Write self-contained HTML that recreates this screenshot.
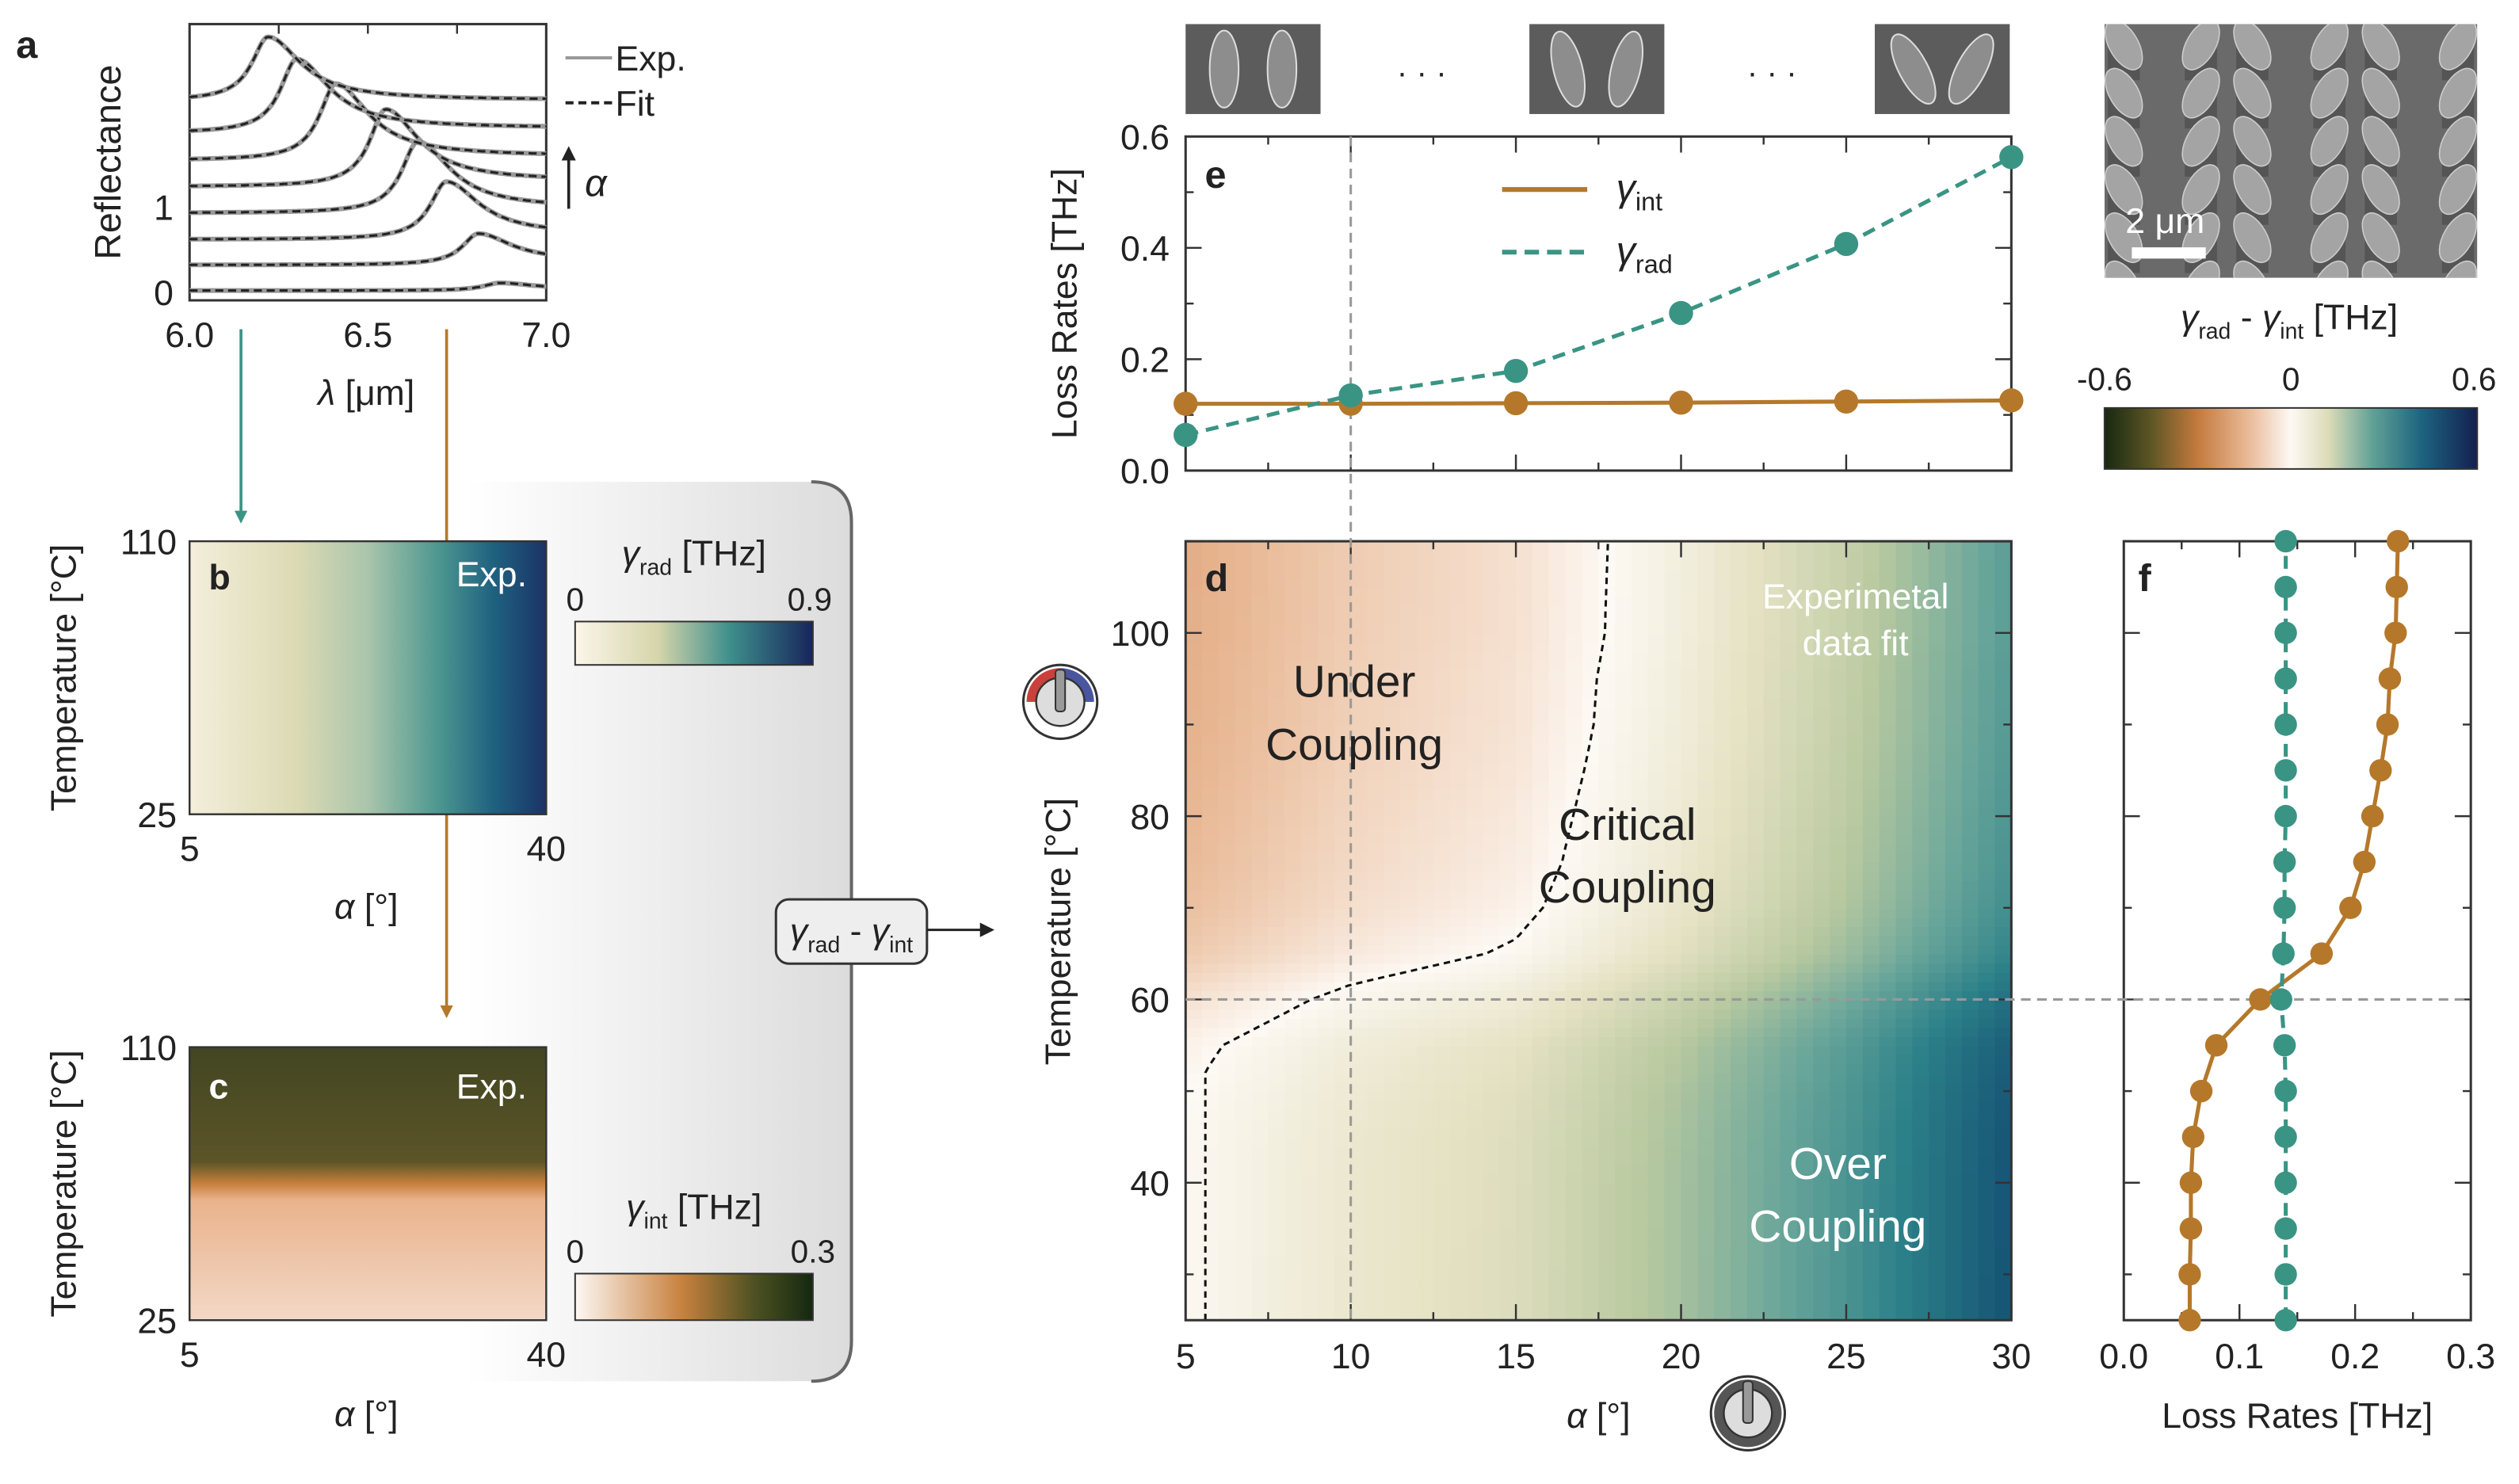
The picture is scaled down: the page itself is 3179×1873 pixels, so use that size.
<!DOCTYPE html>
<html><head><meta charset="utf-8"><style>
html,body{margin:0;padding:0;background:#fff}
svg{display:block}
text{font-family:"Liberation Sans",sans-serif;fill:#222}
</style></head><body>
<svg id="fig" xmlns="http://www.w3.org/2000/svg" width="3179" height="1873" viewBox="0 0 1568 924" preserveAspectRatio="none">
<defs>
<linearGradient id="panelbg" x1="0" x2="1" y1="0" y2="0"><stop offset="0" stop-color="#fff"/><stop offset="0.35" stop-color="#f3f3f3"/><stop offset="1" stop-color="#dcdcdc"/></linearGradient>
<linearGradient id="gb" x1="0" x2="1"><stop offset="0" stop-color="#f4eedb"/><stop offset="0.3" stop-color="#dcdab4"/><stop offset="0.5" stop-color="#a9c5ab"/><stop offset="0.7" stop-color="#4c9690"/><stop offset="0.85" stop-color="#1f6280"/><stop offset="1" stop-color="#1b3366"/></linearGradient>
<linearGradient id="gbbar" x1="0" x2="1"><stop offset="0" stop-color="#fbf6ea"/><stop offset="0.35" stop-color="#d5d5aa"/><stop offset="0.65" stop-color="#3e8f8c"/><stop offset="1" stop-color="#17255c"/></linearGradient>
<linearGradient id="gc" x1="0" x2="0" y1="0" y2="1"><stop offset="0" stop-color="#424622"/><stop offset="0.42" stop-color="#5b5427"/><stop offset="0.5" stop-color="#c7803c"/><stop offset="0.56" stop-color="#e9b38c"/><stop offset="1" stop-color="#f3d8c6"/></linearGradient>
<linearGradient id="gcbar" x1="0" x2="1"><stop offset="0" stop-color="#fdf8f4"/><stop offset="0.45" stop-color="#c8813e"/><stop offset="0.75" stop-color="#4e5222"/><stop offset="1" stop-color="#142810"/></linearGradient>
<linearGradient id="gdbar" x1="0" x2="1"><stop offset="0" stop-color="#17280f"/><stop offset="0.12" stop-color="#5a5424"/><stop offset="0.25" stop-color="#c47a3e"/><stop offset="0.38" stop-color="#e8b793"/><stop offset="0.5" stop-color="#fdf9f4"/><stop offset="0.6" stop-color="#dcdcb8"/><stop offset="0.72" stop-color="#5fa196"/><stop offset="0.85" stop-color="#1d6480"/><stop offset="1" stop-color="#13204f"/></linearGradient>
<clipPath id="clipd"><rect x="738" y="337" width="514" height="485"/></clipPath>
<clipPath id="clipsem"><rect x="1310" y="15" width="232" height="158"/></clipPath>
<marker id="arrT" markerWidth="8" markerHeight="8" refX="4" refY="4" orient="auto" markerUnits="userSpaceOnUse"><path d="M0,0 L8,4 L0,8 z" fill="#3a9484"/></marker>
<marker id="arrB" markerWidth="8" markerHeight="8" refX="4" refY="4" orient="auto" markerUnits="userSpaceOnUse"><path d="M0,0 L8,4 L0,8 z" fill="#b5782a"/></marker>
<marker id="arrK" markerWidth="9" markerHeight="9" refX="4" refY="4.5" orient="auto" markerUnits="userSpaceOnUse"><path d="M0,0 L9,4.5 L0,9 z" fill="#222"/></marker>
</defs>

<path d="M290,300 L505,300 Q530,300 530,325 L530,835 Q530,860 505,860 L290,860 Z" fill="url(#panelbg)"/>
<path d="M505,300 Q530,300 530,325 L530,835 Q530,860 505,860" fill="none" stroke="#666" stroke-width="2"/>

<text x="10" y="36" font-size="24" font-weight="bold">a</text>
<rect x="118" y="15" width="222" height="172" fill="none" stroke="#333" stroke-width="1.5"/>
<text transform="translate(75,101) rotate(-90)" text-anchor="middle" font-size="23">Reflectance</text>
<text x="108" y="137" text-anchor="end" font-size="22">1</text>
<text x="108" y="190" text-anchor="end" font-size="22">0</text>
<text x="118" y="216" text-anchor="middle" font-size="22">6.0</text>
<text x="229" y="216" text-anchor="middle" font-size="22">6.5</text>
<text x="340" y="216" text-anchor="middle" font-size="22">7.0</text>
<text x="228" y="252" text-anchor="middle" font-size="22"><tspan font-style="italic">λ</tspan> [μm]</text>
<line x1="352" y1="36" x2="381" y2="36" stroke="#999" stroke-width="2"/>
<text x="383" y="44" font-size="22">Exp.</text>
<line x1="352" y1="64" x2="381" y2="64" stroke="#222" stroke-width="2" stroke-dasharray="5,3"/>
<text x="383" y="72" font-size="22">Fit</text>
<line x1="354" y1="130" x2="354" y2="96" stroke="#222" stroke-width="1.8" marker-end="url(#arrK)"/>
<text x="364" y="122" font-size="24" font-style="italic">α</text>

<line x1="150" y1="205" x2="150" y2="322" stroke="#3a9484" stroke-width="1.8" marker-end="url(#arrT)"/>
<line x1="278" y1="205" x2="278" y2="630" stroke="#b5782a" stroke-width="1.8" marker-end="url(#arrB)"/>
<rect x="483" y="560" width="94" height="40" rx="8" fill="#eee" stroke="#333" stroke-width="1.5"/>
<text x="530" y="587" text-anchor="middle" font-size="22"><tspan font-style="italic">γ</tspan><tspan font-size="14" dy="6">rad</tspan><tspan dy="-6"> - </tspan><tspan font-style="italic">γ</tspan><tspan font-size="14" dy="6">int</tspan></text>
<line x1="577" y1="579" x2="614" y2="579" stroke="#222" stroke-width="1.5" marker-end="url(#arrK)"/>

<rect x="118" y="337" width="222" height="170" fill="url(#gb)"/>
<rect x="118" y="337" width="222" height="170" fill="none" stroke="#333" stroke-width="1.2"/>
<text x="130" y="367" font-size="22" font-weight="bold">b</text>
<text x="328" y="365" text-anchor="end" font-size="22" style="fill:#fff">Exp.</text>
<text x="110" y="345" text-anchor="end" font-size="22">110</text>
<text x="110" y="515" text-anchor="end" font-size="22">25</text>
<text x="118" y="536" text-anchor="middle" font-size="22">5</text>
<text x="340" y="536" text-anchor="middle" font-size="22">40</text>
<text x="228" y="572" text-anchor="middle" font-size="22"><tspan font-style="italic">α</tspan> [°]</text>
<text transform="translate(47,422) rotate(-90)" text-anchor="middle" font-size="22">Temperature [°C]</text>
<text x="432" y="352" text-anchor="middle" font-size="22"><tspan font-style="italic">γ</tspan><tspan font-size="14" dy="6">rad</tspan><tspan dy="-6"> [THz]</tspan></text>
<text x="358" y="380" text-anchor="middle" font-size="20">0</text>
<text x="504" y="380" text-anchor="middle" font-size="20">0.9</text>
<rect x="358" y="387" width="148" height="27" fill="url(#gbbar)" stroke="#333" stroke-width="1"/>

<rect x="118" y="652" width="222" height="170" fill="url(#gc)"/>
<rect x="118" y="652" width="222" height="170" fill="none" stroke="#333" stroke-width="1.2"/>
<text x="130" y="684" font-size="22" font-weight="bold" style="fill:#fff">c</text>
<text x="328" y="684" text-anchor="end" font-size="22" style="fill:#fff">Exp.</text>
<text x="110" y="660" text-anchor="end" font-size="22">110</text>
<text x="110" y="830" text-anchor="end" font-size="22">25</text>
<text x="118" y="851" text-anchor="middle" font-size="22">5</text>
<text x="340" y="851" text-anchor="middle" font-size="22">40</text>
<text x="228" y="888" text-anchor="middle" font-size="22"><tspan font-style="italic">α</tspan> [°]</text>
<text transform="translate(47,737) rotate(-90)" text-anchor="middle" font-size="22">Temperature [°C]</text>
<text x="432" y="759" text-anchor="middle" font-size="22"><tspan font-style="italic">γ</tspan><tspan font-size="14" dy="6">int</tspan><tspan dy="-6"> [THz]</tspan></text>
<text x="358" y="786" text-anchor="middle" font-size="20">0</text>
<text x="506" y="786" text-anchor="middle" font-size="20">0.3</text>
<rect x="358" y="793" width="148" height="29" fill="url(#gcbar)" stroke="#333" stroke-width="1"/>

<g id="sem"></g>
<text x="885" y="52" text-anchor="middle" font-size="20">· · ·</text>
<text x="1103" y="52" text-anchor="middle" font-size="20">· · ·</text>

<text x="1425" y="205" text-anchor="middle" font-size="22"><tspan font-style="italic">γ</tspan><tspan font-size="14" dy="6">rad</tspan><tspan dy="-6"> - </tspan><tspan font-style="italic">γ</tspan><tspan font-size="14" dy="6">int</tspan><tspan dy="-6"> [THz]</tspan></text>
<text x="1310" y="243" text-anchor="middle" font-size="20">-0.6</text>
<text x="1426" y="243" text-anchor="middle" font-size="20">0</text>
<text x="1540" y="243" text-anchor="middle" font-size="20">0.6</text>
<rect x="1310" y="254" width="232" height="38" fill="url(#gdbar)" stroke="#333" stroke-width="1"/>

<g id="plots"></g>
</svg>
<script>
const aBase = [0.02, 0.32, 0.62, 0.93, 1.24, 1.55, 1.87, 2.25];
const aTail = [0.04, 0.37, 0.68, 0.99, 1.31, 1.60, 1.93, 2.26];
const aPeak = [0.11, 0.69, 1.30, 1.77, 2.15, 2.45, 2.74, 3.00];
const aLam  = [6.87, 6.81, 6.72, 6.64, 6.55, 6.41, 6.30, 6.22];
const alphaE = [5, 10, 15, 20, 25, 30];
const gammaIntE = [0.120, 0.120, 0.121, 0.122, 0.124, 0.126];
const gammaRadE = [0.064, 0.135, 0.179, 0.283, 0.407, 0.563];
const eTicks = [0.0, 0.2, 0.4, 0.6];
const xTicksD = [5, 10, 15, 20, 25, 30];
const tempF = [25,30,35,40,45,50,55,60,65,70,75,80,85,90,95,100,105,110];
const gammaIntF = [0.057,0.057,0.058,0.058,0.060,0.067,0.080,0.118,0.171,0.196,0.208,0.215,0.222,0.228,0.230,0.235,0.236,0.237];
const gammaRadF = [0.140,0.140,0.140,0.140,0.140,0.140,0.139,0.136,0.138,0.139,0.139,0.140,0.140,0.140,0.140,0.140,0.140,0.140];
const fTicks = [0.0, 0.1, 0.2, 0.3];
const yTicksD = [40, 60, 80, 100];

const ax = l => 118 + (l - 6) * 222;
const ay = r => 182 - r * 53;
const ex = a => 738 + (a - 5) / 25 * 514;
const ey = v => 293 - v / 0.6 * 208;
const dy = T => 822 - (T - 25) / 85 * 485;
const fx = v => 1322 + v / 0.3 * 216;

const NS = 'http://www.w3.org/2000/svg';
const plots = document.getElementById('plots');
function mk(tag, attrs, parent) {
  const e = document.createElementNS(NS, tag);
  for (const k in attrs) e.setAttribute(k, attrs[k]);
  (parent || plots).appendChild(e);
  return e;
}
function txt(s, attrs, parent) { const t = mk('text', attrs, parent); t.textContent = s; return t; }
function interp(xs, ys, x) {
  if (x <= xs[0]) return ys[0];
  for (let i = 1; i < xs.length; i++) if (x <= xs[i]) { const f = (x - xs[i-1]) / (xs[i] - xs[i-1]); return ys[i-1] + f * (ys[i] - ys[i-1]); }
  return ys[ys.length - 1];
}

for (let i = 0; i < aBase.length; i++) {
  let d = '';
  for (let k = 0; k <= 200; k++) {
    const l = 6 + k / 200;
    let r;
    if (l < aLam[i]) r = aBase[i] + (aPeak[i] - aBase[i]) / (1 + Math.pow((l - aLam[i]) / 0.055, 2));
    else r = aTail[i] + (aPeak[i] - aTail[i]) / (1 + Math.pow((l - aLam[i]) / 0.11, 2));
    d += (k ? 'L' : 'M') + ax(l).toFixed(1) + ',' + ay(r).toFixed(1);
  }
  const g = mk('path', {d: d, fill: 'none', stroke: '#9a9a9a', 'stroke-width': 3});
  
  
  const f = mk('path', {d: d, fill: 'none', stroke: '#222', 'stroke-width': 1.5, 'stroke-dasharray': '5,3'});
  
  
}
[6.25, 6.5, 6.75].forEach(l => {
  const t = mk('line', {x1: ax(l), y1: 15, x2: ax(l), y2: 21, stroke: '#333', 'stroke-width': 1.2});
  
  
});

const cmStops = [[-0.6,[23,40,15]],[-0.45,[90,84,36]],[-0.3,[196,122,62]],[-0.15,[232,183,147]],[0,[253,249,244]],[0.1,[230,226,196]],[0.2,[185,201,160]],[0.3,[106,166,154]],[0.4,[44,129,137]],[0.5,[23,86,118]],[0.6,[19,32,79]]];
function cmap(v) {
  v = Math.max(-0.6, Math.min(0.6, v));
  for (let i = 1; i < cmStops.length; i++) if (v <= cmStops[i][0]) {
    const a = cmStops[i-1], b = cmStops[i], f = (v - a[0]) / (b[0] - a[0]);
    return 'rgb(' + a[1].map((c, j) => Math.round(c + f * (b[1][j] - c))).join(',') + ')';
  }
  return 'rgb(19,32,79)';
}

const hm = mk('g', {'clip-path': 'url(#clipd)'});


const cw = 514 / 50, ch = 485 / 85;
for (let j = 0; j < 85; j++) {
  const T = 25 + j + 0.5;
  const gi = interp(tempF, gammaIntF, T);
  for (let i = 0; i < 50; i++) {
    const a = 5 + (i + 0.5) * 0.5;
    const gr = interp(alphaE, gammaRadE, a);
    const c = mk('rect', {x: (ex(a) - cw / 2).toFixed(2), y: (dy(T) - ch / 2).toFixed(2), width: (cw + 0.6).toFixed(2), height: (ch + 0.6).toFixed(2), fill: cmap(gr - gi)}, hm);
    
    
  }
}
let cd = '';
for (let T = 25; T <= 110; T += 0.5) {
  const gi = interp(tempF, gammaIntF, T);
  let a = 5.6;
  for (let k = 1; k < alphaE.length; k++) if (gi <= gammaRadE[k] && gi >= gammaRadE[k-1]) { a = alphaE[k-1] + (gi - gammaRadE[k-1]) / (gammaRadE[k] - gammaRadE[k-1]) * 5; break; }
  a = Math.max(a, 5.6);
  cd += (cd ? 'L' : 'M') + ex(a).toFixed(1) + ',' + dy(T).toFixed(1);
}
const cont = mk('path', {d: cd, fill: 'none', stroke: '#111', 'stroke-width': 1.5, 'stroke-dasharray': '4,3'}, hm);



function frame(x, y, w, h, name) {
  const r = mk('rect', {x: x, y: y, width: w, height: h, fill: 'none', stroke: '#333', 'stroke-width': 1.5});
  
  
}
frame(738, 337, 514, 485, 'panel-d-frame');
frame(738, 85, 514, 208, 'panel-e-frame');
frame(1322, 337, 216, 485, 'panel-f-frame');

for (let a = 5; a <= 30; a += 2.5) {
  const len = (a % 5 === 0) ? 10 : 5;
  [[822, -1], [337, 1], [293, -1], [85, 1]].forEach(([y0, s]) => {
    const t = mk('line', {x1: ex(a), y1: y0, x2: ex(a), y2: y0 + s * len, stroke: '#333', 'stroke-width': 1.2});
    
    
  });
}
xTicksD.forEach(a => {
  const t = txt(String(a), {x: ex(a), y: 852, 'text-anchor': 'middle', 'font-size': 22});
  
  
});
for (let T = 30; T <= 110; T += 10) {
  const len = (T % 20 === 0) ? 10 : 5;
  [[738, 1], [1252, -1], [1322, 1], [1538, -1]].forEach(([x0, s]) => {
    const t = mk('line', {x1: x0, y1: dy(T), x2: x0 + s * len, y2: dy(T), stroke: '#333', 'stroke-width': 1.2});
    
    
  });
}
yTicksD.forEach(T => {
  const t = txt(String(T), {x: 728, y: dy(T) + 8, 'text-anchor': 'end', 'font-size': 22});
  
  
});
for (let v = 0.1; v < 0.6; v += 0.1) {
  const big = Math.abs((v * 10) % 2) < 0.01;
  [[738, 1], [1252, -1]].forEach(([x0, s]) => {
    const t = mk('line', {x1: x0, y1: ey(v), x2: x0 + s * (big ? 10 : 5), y2: ey(v), stroke: '#333', 'stroke-width': 1.2});
    
    
  });
}
eTicks.forEach(v => {
  const t = txt(v.toFixed(1), {x: 728, y: ey(v) + 8, 'text-anchor': 'end', 'font-size': 22});
  
  
});
for (let v = 0.05; v < 0.3; v += 0.05) {
  const big = Math.abs(v * 20 % 2) < 0.01;
  [[822, -1], [337, 1]].forEach(([y0, s]) => {
    const t = mk('line', {x1: fx(v), y1: y0, x2: fx(v), y2: y0 + s * (big ? 10 : 5), stroke: '#333', 'stroke-width': 1.2});
    
    
  });
}
fTicks.forEach(v => {
  const t = txt(v.toFixed(1), {x: fx(v), y: 852, 'text-anchor': 'middle', 'font-size': 22});
  
  
});

const vl = mk('line', {x1: ex(10), y1: 85, x2: ex(10), y2: 822, stroke: '#999', 'stroke-width': 1.5, 'stroke-dasharray': '6,4'});


const hl = mk('line', {x1: 738, y1: dy(60), x2: 1538, y2: dy(60), stroke: '#999', 'stroke-width': 1.5, 'stroke-dasharray': '6,4'});



const pInt = mk('path', {d: alphaE.map((a, i) => (i ? 'L' : 'M') + ex(a) + ',' + ey(gammaIntE[i])).join(''), fill: 'none', stroke: '#b5782a', 'stroke-width': 2.5});


const pRad = mk('path', {d: alphaE.map((a, i) => (i ? 'L' : 'M') + ex(a) + ',' + ey(gammaRadE[i])).join(''), fill: 'none', stroke: '#3a9484', 'stroke-width': 2.5, 'stroke-dasharray': '8,5'});


alphaE.forEach((a, i) => {
  const c1 = mk('circle', {cx: ex(a), cy: ey(gammaIntE[i]), r: 7.5, fill: '#b5782a'});
  
  
  const c2 = mk('circle', {cx: ex(a), cy: ey(gammaRadE[i]), r: 7.5, fill: '#3a9484'});
  
  
});

const fInt = mk('path', {d: tempF.map((T, i) => (i ? 'L' : 'M') + fx(gammaIntF[i]) + ',' + dy(T)).join(''), fill: 'none', stroke: '#b5782a', 'stroke-width': 2.5});


const fRad = mk('path', {d: tempF.map((T, i) => (i ? 'L' : 'M') + fx(gammaRadF[i]) + ',' + dy(T)).join(''), fill: 'none', stroke: '#3a9484', 'stroke-width': 2.5, 'stroke-dasharray': '8,5'});


tempF.forEach((T, i) => {
  const c1 = mk('circle', {cx: fx(gammaIntF[i]), cy: dy(T), r: 7, fill: '#b5782a'});
  
  
  const c2 = mk('circle', {cx: fx(gammaRadF[i]), cy: dy(T), r: 7, fill: '#3a9484'});
  
  
});

function label(s, x, y, size, name, opts) {
  const t = txt(s, Object.assign({x: x, y: y, 'font-size': size}, opts || {}));
  
  
  return t;
}
label('d', 750, 368, 24, 'panel-d-label', {'font-weight': 'bold'});
label('e', 750, 117, 24, 'panel-e-label', {'font-weight': 'bold'});
label('f', 1331, 368, 24, 'panel-f-label', {'font-weight': 'bold'});
label('Under', 843, 434, 28, 'under-coupling-label-1', {'text-anchor': 'middle'});
label('Coupling', 843, 473, 28, 'under-coupling-label-2', {'text-anchor': 'middle'});
label('Critical', 1013, 523, 28, 'critical-coupling-label-1', {'text-anchor': 'middle'});
label('Coupling', 1013, 562, 28, 'critical-coupling-label-2', {'text-anchor': 'middle'});
label('Experimetal', 1155, 379, 22, 'fit-note-label-1', {'text-anchor': 'middle', style: 'fill:#fff'});
label('data fit', 1155, 408, 22, 'fit-note-label-2', {'text-anchor': 'middle', style: 'fill:#fff'});
label('Over', 1144, 734, 28, 'over-coupling-label-1', {'text-anchor': 'middle', style: 'fill:#fff'});
label('Coupling', 1144, 773, 28, 'over-coupling-label-2', {'text-anchor': 'middle', style: 'fill:#fff'});
const dxt = label('', 995, 889, 22, 'panel-d-x-title', {'text-anchor': 'middle'});
dxt.innerHTML = '<tspan font-style="italic">α</tspan> [°]';
label('Temperature [°C]', 0, 0, 22, 'panel-d-y-title', {'text-anchor': 'middle', transform: 'translate(666,580) rotate(-90)'});
label('Loss Rates [THz]', 0, 0, 22, 'panel-e-y-title', {'text-anchor': 'middle', transform: 'translate(670,189) rotate(-90)'});
label('Loss Rates [THz]', 1430, 889, 22, 'panel-f-x-title', {'text-anchor': 'middle'});
const l1 = mk('line', {x1: 935, y1: 118, x2: 988, y2: 118, stroke: '#b5782a', 'stroke-width': 3});


const l2 = mk('line', {x1: 935, y1: 157, x2: 988, y2: 157, stroke: '#3a9484', 'stroke-width': 3, 'stroke-dasharray': '9,5'});


const lt1 = label('', 1006, 125, 24, 'legend-gamma-int-label');
lt1.innerHTML = '<tspan font-style="italic">γ</tspan><tspan font-size="16" dy="6">int</tspan>';
const lt2 = label('', 1006, 164, 24, 'legend-gamma-rad-label');
lt2.innerHTML = '<tspan font-style="italic">γ</tspan><tspan font-size="16" dy="6">rad</tspan>';

function knob(cx, cy, name, colored) {
  const g = mk('g', {});
  
  
  mk('circle', {cx: cx, cy: cy, r: 23, fill: '#fff', stroke: '#333', 'stroke-width': 1.5}, g);
  if (colored) {
    mk('path', {d: `M${cx-21},${cy} A21,21 0 0 1 ${cx},${cy-21} L${cx},${cy} Z`, fill: '#c9413a'}, g);
    mk('path', {d: `M${cx},${cy-21} A21,21 0 0 1 ${cx+21},${cy} L${cx},${cy} Z`, fill: '#4a55a0'}, g);
  } else {
    mk('circle', {cx: cx, cy: cy, r: 21, fill: '#555'}, g);
  }
  mk('circle', {cx: cx, cy: cy, r: 15, fill: '#ddd', stroke: '#333', 'stroke-width': 1.2}, g);
  mk('rect', {x: cx - 3, y: cy - 20, width: 6, height: 26, rx: 2, fill: '#999', stroke: '#333', 'stroke-width': 1}, g);
}
knob(660, 437, 'temperature-knob-icon', true);
knob(1088, 880, 'angle-knob-icon', false);

const sem = document.getElementById('sem');
[[738, 0], [952, 14], [1167, 28]].forEach(([x0, ang]) => {
  const g = mk('g', {}, sem);
  
  
  mk('rect', {x: x0, y: 15, width: 84, height: 56, fill: '#5c5c5c'}, g);
  [[x0 + 24, -ang], [x0 + 60, ang]].forEach(([cx, a]) => {
    mk('ellipse', {cx: cx, cy: 43, rx: 9, ry: 24, fill: '#8d8d8d', stroke: '#ddd', 'stroke-width': 1, transform: `rotate(${a} ${cx} 43)`}, g);
  });
});
const big = mk('g', {'clip-path': 'url(#clipsem)'}, sem);


mk('rect', {x: 1310, y: 15, width: 232, height: 158, fill: '#6a6a6a'}, big);
for (let r = 0; r < 6; r++) for (let c = 0; c < 6; c++) {
  const cx = 1322 + c * 40 + (c % 2) * 8, cy = 28 + r * 30;
  mk('rect', {x: cx - 10, y: cy, width: 20, height: 22, fill: '#555'}, big);
  mk('ellipse', {cx: cx, cy: cy, rx: 9, ry: 17, fill: '#a4a4a4', stroke: '#ccc', 'stroke-width': 0.8, transform: `rotate(${c % 2 ? 30 : -30} ${cx} ${cy})`}, big);
}
label('2 μm', 1323, 145, 22, 'scale-bar-label', {style: 'fill:#fff'});
const sb = mk('rect', {x: 1327, y: 154, width: 46, height: 7, fill: '#fff'});


</script>
</body></html>
